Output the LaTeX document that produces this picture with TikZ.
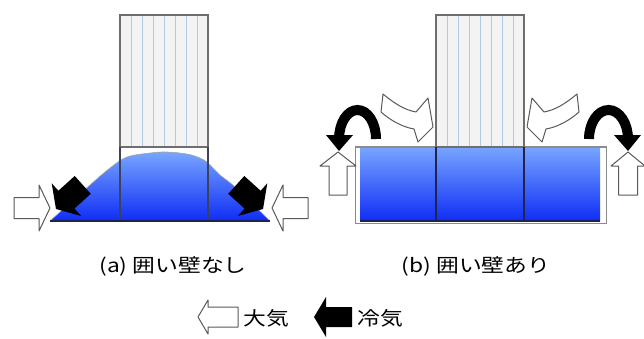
\documentclass[tikz,border=0pt]{standalone}
\usepackage{fontspec}
\newfontfamily\jpfont[FakeStretch=1.2]{Noto Sans CJK JP}
\definecolor{wtop}{RGB}{120,165,255}
\definecolor{wbot}{RGB}{15,45,245}
\definecolor{bfill}{RGB}{243,243,243}
\definecolor{bline}{RGB}{110,110,110}
\definecolor{stripe}{RGB}{178,202,228}
\definecolor{navy}{RGB}{30,35,80}
\definecolor{colline}{RGB}{60,66,90}
% block arrow: style, tip, rotation, length, head length, head half-width, body half-width
\newcommand{\blockarr}[7]{%
  \path[#1,shift={#2},rotate=#3] (0,0) -- (#5,-#6) -- (#5,-#7) -- (#4,-#7)
    -- (#4,#7) -- (#5,#7) -- (#5,#6) -- cycle;}
\begin{document}
\begin{tikzpicture}[x=1pt,y=-1pt,
  water/.style={top color=wtop,bottom color=wbot},
  stripeln/.style={draw=stripe,line width=1},
  bldgedge/.style={draw=bline,line width=1.2},
  air/.style={fill=white,draw=black!65,line width=1,line join=round},
  cold/.style={fill=black},
  coldarc/.style={draw=black,line width=10},
  jp/.style={font={\jpfont\fontsize{19pt}{22pt}\selectfont},inner sep=0pt}]
\useasboundingbox (0,0) rectangle (644,338);

% ---------- (a) without enclosure ----------
\shade[water] plot[smooth,tension=0.55] coordinates {(50,221) (90,185) (110,168) (127,157) (150,153) (167,152) (187,154) (200,158) (208,163) (220,175) (235,187) (270,221)} -- cycle;
\draw[gray!70,line width=0.6] plot[smooth,tension=0.55] coordinates {(50,221) (90,185) (110,168) (127,157) (150,153) (167,152) (187,154) (200,158) (208,163) (220,175) (235,187) (270,221)};
\fill[bfill] (120,15) rectangle (208,147);
\foreach \k in {1,...,7} \draw[stripeln] ({120+11*\k},16) -- ({120+11*\k},146);
\draw[bldgedge] (120,15) rectangle (208,147);
\draw[colline,line width=1.2] (120,147) -- (120,221) (208,147) -- (208,221);
\draw[navy,line width=1.5] (50,221) -- (270,221);

% cold air flowing down the slopes
\blockarr{cold}{(56,209)}{42}{36}{14}{22}{12}
\blockarr{cold}{(263,209)}{138}{36}{14}{22}{12}
% outside air
\blockarr{air}{(50,208)}{180}{36}{11}{23}{10.5}
\blockarr{air}{(272,208)}{0}{36}{11}{23}{10.5}

% ---------- (b) with enclosure ----------
\draw[fill=white,draw=bline!80,line width=0.8] (355,146) rectangle (606,223);
\shade[water] (360,147) rectangle (600,221);
\draw[navy,line width=1.3] (360,221) -- (600,221);
\draw[bline!80,line width=0.8] (355,147) -- (606,147);
\fill[bfill] (436,15) rectangle (524,147);
\foreach \k in {1,...,7} \draw[stripeln] ({436+11*\k},16) -- ({436+11*\k},146);
\draw[bldgedge] (436,15) rectangle (524,147);
\draw[navy,line width=1.2] (436,147) -- (436,221) (524,147) -- (524,221);

% outside air bending down towards the building
\path[air] (383,94) .. controls (395,104) and (405,110) .. (416,112) -- (428,98)
  -- (433,127) -- (418,142) -- (414,129) .. controls (402,127) and (390,120) .. (381,112) -- cycle;
\path[air] (577,94) .. controls (565,104) and (555,110) .. (544,112) -- (532,98)
  -- (527,127) -- (542,142) -- (546,129) .. controls (558,127) and (570,120) .. (579,112) -- cycle;

% cold air spilling over the walls
\draw[coldarc] (376,139) arc[start angle=0,end angle=-180,x radius=18.5,y radius=29];
\fill[black] (326,135) -- (353,135) -- (339,151) -- cycle;
\draw[coldarc] (589,139) arc[start angle=180,end angle=360,x radius=19.5,y radius=29];
\fill[black] (614,135) -- (641,135) -- (628,151) -- cycle;
% rising air outside the walls
\blockarr{air}{(338,152)}{-90}{43}{14}{18}{9}
\blockarr{air}{(628,152)}{-90}{43}{14}{17}{9.5}

% ---------- captions ----------
\node[jp] (labA) at (173,266) {(a) 囲い壁なし};
\node[jp] (labB) at (476,266) {(b) 囲い壁あり};

% ---------- legend ----------
\blockarr{air}{(198,317)}{0}{40}{10}{17}{10}
\node[jp,anchor=west] (legAir) at (243,318) {大気};
\blockarr{cold}{(314,317)}{0}{38}{12}{20}{10}
\node[jp,anchor=west] (legCold) at (357,318) {冷気};
\end{tikzpicture}
\end{document}
